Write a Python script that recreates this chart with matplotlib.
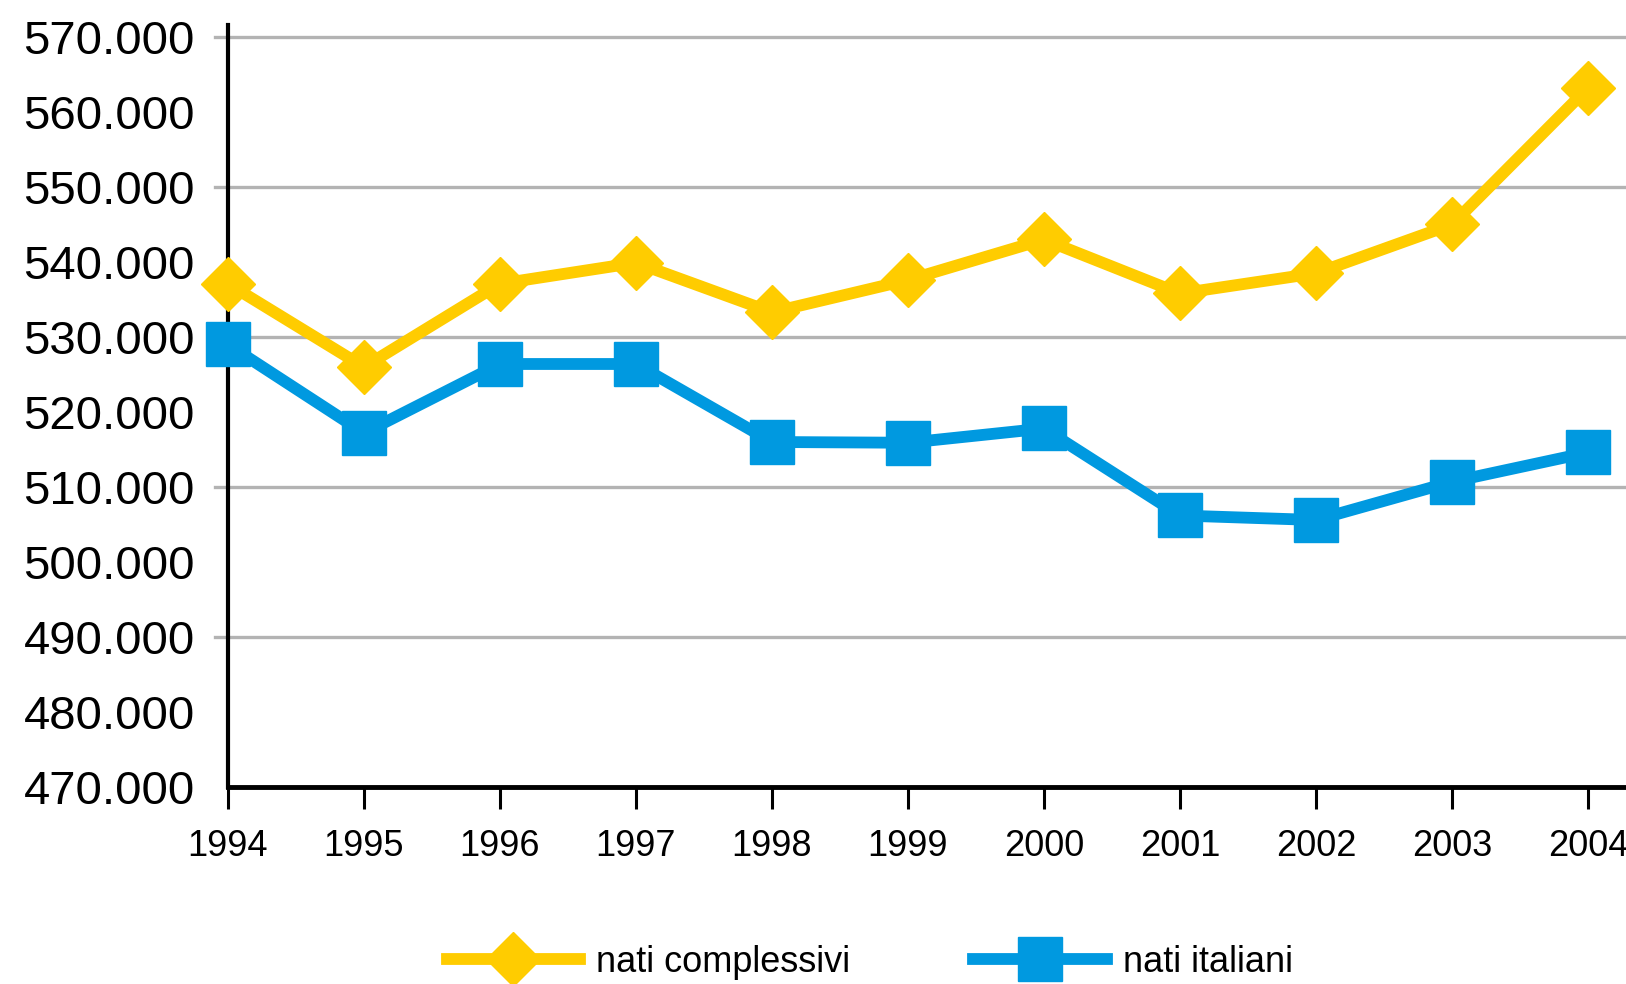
import numpy as np
import matplotlib.pyplot as plt
from matplotlib.ticker import FuncFormatter, FixedLocator

# --- data ---
years = [1994, 1995, 1996, 1997, 1998, 1999, 2000, 2001, 2002, 2003, 2004]
nati_complessivi = [537100, 526000, 537100, 539900, 533300, 537600,
                    543000, 535800, 538500, 545000, 563200]
nati_italiani = [529000, 517200, 526400, 526400, 516000, 515900,
                 517800, 506200, 505600, 510700, 514600]
y_ticks = np.arange(470000, 570001, 10000)
grid_levels = np.arange(490000, 570001, 20000)

YELLOW = "#FFCC00"
BLUE = "#0099E0"

plt.rcParams["font.family"] = ["Liberation Sans", "DejaVu Sans"]

fig = plt.figure(figsize=(16.26, 9.84), dpi=100)
ax = fig.add_axes([0.1402, 0.2002, 0.8598, 0.7744])

for lvl in grid_levels:
    ax.axhline(lvl, xmin=-0.009, xmax=1, color="#B3B3B3", lw=2.4,
               zorder=1, clip_on=False)

ax.plot(years, nati_complessivi, "-D", color=YELLOW, lw=8.5, ms=27,
        mec=YELLOW, mfc=YELLOW, label="nati complessivi", zorder=3,
        clip_on=False)
ax.plot(years, nati_italiani, "-s", color=BLUE, lw=8.5, ms=31,
        mec=BLUE, mfc=BLUE, label="nati italiani", zorder=4,
        clip_on=False)

ax.set_xlim(1994, 2004.28)
ax.set_ylim(470000, 571600)
ax.xaxis.set_major_locator(FixedLocator(years))
ax.set_xticklabels([str(y) for y in years], fontsize=26)
ax.yaxis.set_major_locator(FixedLocator(y_ticks))
ax.yaxis.set_major_formatter(
    FuncFormatter(lambda v, _: f"{v:,.0f}".replace(",", ".")))
ax.tick_params(axis="y", length=0, pad=24, labelsize=34)
ax.tick_params(axis="x", direction="out", length=16, width=2.2, pad=14)

for side in ("top", "right"):
    ax.spines[side].set_visible(False)
ax.spines["left"].set_linewidth(3)
ax.spines["bottom"].set_linewidth(3.5)

ax.legend(loc="center", bbox_to_anchor=(0.535, 0.022),
          bbox_transform=fig.transFigure, ncol=2, frameon=False,
          fontsize=26, handlelength=3.7, handletextpad=0.45,
          columnspacing=3.4, numpoints=1)

fig.savefig("out.png", dpi=100)
